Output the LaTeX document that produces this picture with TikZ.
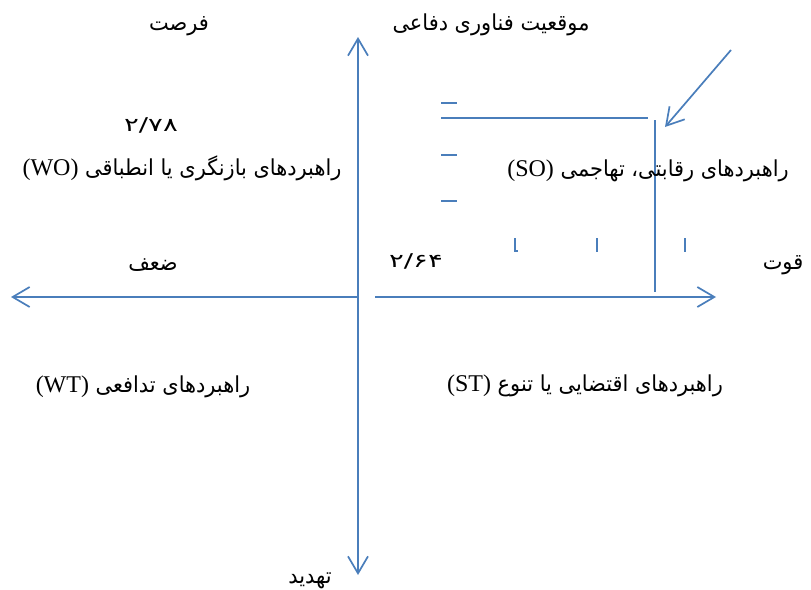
\documentclass[tikz,border=0pt]{standalone}
\usepackage{fontspec}
\setmainfont{Liberation Serif}
\newfontfamily\arabicfont[Script=Arabic,FakeStretch=0.95]{DejaVu Sans}
\newfontfamily\digfont[Script=Arabic,FakeStretch=1.45]{DejaVu Sans}
\newfontfamily\latfont{Liberation Serif}
\TeXXeTstate=1
\usetikzlibrary{arrows.meta}
\definecolor{axisblue}{HTML}{4A7EBB}
\newcommand{\lat}[1]{{\latfont\fontsize{24}{26}\selectfont #1}}
\begin{document}
\begin{tikzpicture}[x=1pt,y=-1pt,
  axis/.style={draw=axisblue, line width=1.7pt},
  tipped/.style={-{Straight Barb[length=17pt,width=20pt,line width=1.7pt]}},
  fa/.style={inner sep=0pt, anchor=base, font=\arabicfont\fontsize{22}{24}\selectfont},
  num/.style={inner sep=0pt, anchor=base, font=\digfont\fontsize{19}{21}\selectfont}]
\useasboundingbox (0,0) rectangle (811,589);

% axes
\coordinate (o) at (358,297);
\coordinate (top) at (358,37);
\coordinate (bot) at (358,575);
\coordinate (left) at (11,297);
\coordinate (rs) at (375,297);
\coordinate (right) at (716,297);
\draw[axis,tipped] (o) -- (top);
\draw[axis,tipped] (o) -- (bot);
\draw[axis,tipped] (o) -- (left);
\draw[axis,tipped] (rs) -- (right);

% SO box lines
\coordinate (h1) at (441,118);
\coordinate (h2) at (648,118);
\coordinate (v1) at (655,120);
\coordinate (v2) at (655,292);
\draw[axis] (h1) -- (h2);
\draw[axis] (v1) -- (v2);

% diagonal arrow
\coordinate (d1) at (731,50);
\coordinate (d2) at (665,127);
\draw[axis,tipped] (d1) -- (d2);

% small dashes
\foreach \yy/\nm in {103/a,155/b,201/c}{
  \coordinate (da\nm) at (441,\yy);
  \coordinate (db\nm) at (457,\yy);
  \draw[axis] (da\nm) -- (db\nm);
}
% small ticks
\coordinate (t1a) at (515,238); \coordinate (t1b) at (515,251); \coordinate (t1c) at (518,251);
\draw[axis] (t1a) -- (t1b) -- (t1c);
\foreach \xx/\nm in {597/b,685/c}{
  \coordinate (ta\nm) at (\xx,238);
  \coordinate (tb\nm) at (\xx,252);
  \draw[axis] (ta\nm) -- (tb\nm);
}

% labels
\node[fa] (opp) at (179,30) {\beginR فرصت\endR};
\node[fa] (title) at (491,30) {\beginR موقعیت فناوری دفاعی\endR};
\node[num] (n278) at (151,131) {۲/۷۸};
\node[fa] (wo) at (182,175) {\lat{(WO)}\ \beginR راهبردهای بازنگری یا انطباقی\endR};
\node[fa] (so) at (648,176) {\lat{(SO)}\ \beginR راهبردهای رقابتی، تهاجمی\endR};
\node[fa] (weak) at (153,270) {\beginR ضعف\endR};
\node[num] (n264) at (416,267) {۲/۶۴};
\node[fa] (str) at (783,269) {\beginR قوت\endR};
\node[fa] (wt) at (143,392) {\lat{(WT)}\ \beginR راهبردهای تدافعی\endR};
\node[fa] (st) at (585,391) {\lat{(ST)}\ \beginR راهبردهای اقتضایی یا تنوع\endR};
\node[fa] (thr) at (310,583) {\beginR تهدید\endR};
\end{tikzpicture}
\end{document}
